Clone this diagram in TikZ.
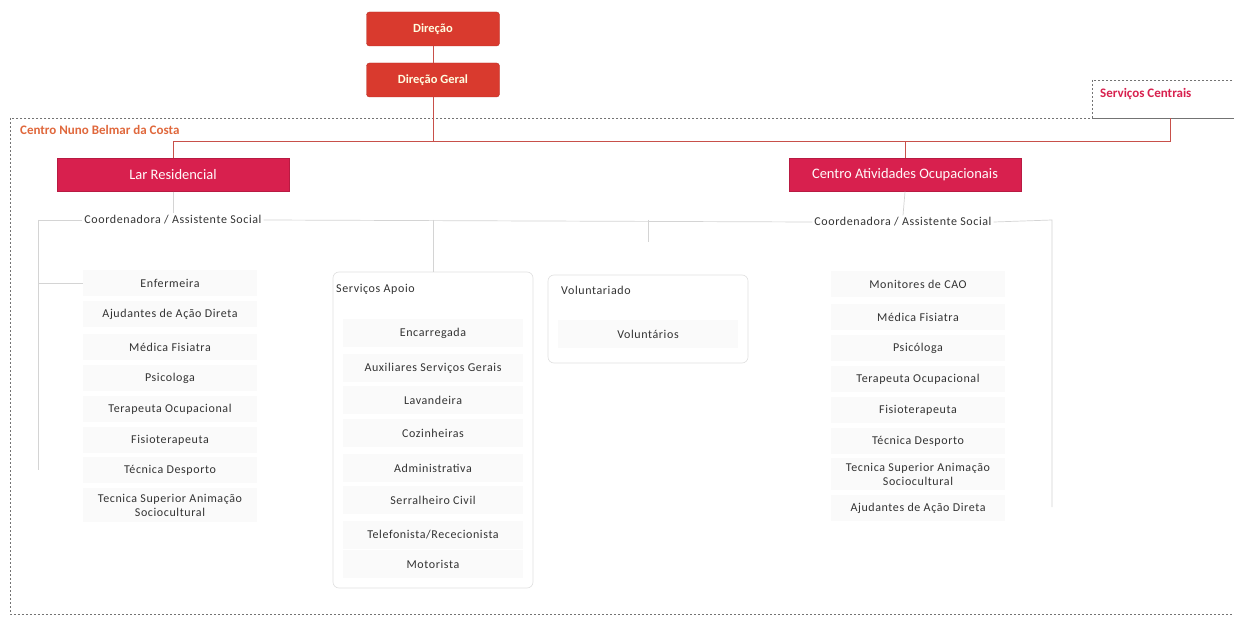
\documentclass[tikz,border=0pt]{standalone}
\usepackage{fontspec}
\setmainfont{Carlito}
\newfontfamily\spacedfont[LetterSpace=5]{Carlito}
\definecolor{dirred}{HTML}{D93A2E}
\definecolor{crim}{HTML}{D8204E}
\definecolor{linered}{HTML}{C8504A}
\definecolor{orangelbl}{HTML}{E0683C}
\definecolor{linegray}{HTML}{D4D4D4}
\definecolor{txt}{HTML}{333333}
\begin{document}
\begin{tikzpicture}[x=1pt,y=-1pt,
  dirbox/.style={rectangle, rounded corners=3pt, fill=dirred, draw=dirred!85!black, line width=0.4pt,
    minimum width=133pt, minimum height=34pt, text=white!88!yellow, font=\bfseries\fontsize{12.5}{14}\selectfont},
  unitbox/.style={rectangle, fill=crim, draw=crim!85!black, line width=0.4pt,
    minimum width=232pt, minimum height=33pt, text=white!92!pink, font=\fontsize{14.5}{16}\selectfont},
  dashbox/.style={draw=black!55, dash pattern=on 2pt off 2pt, line width=0.5pt},
  redline/.style={draw=linered, line width=1pt},
  grayline/.style={draw=linegray, line width=0.7pt},
  coord/.style={text=txt, font=\spacedfont\fontsize{12}{14}\selectfont, fill=white, inner sep=2pt},
  itemL/.style={fill=black!2, minimum width=174pt, minimum height=26pt, inner sep=1pt,
    text=txt, align=center, font=\spacedfont\fontsize{12}{14}\selectfont},
  itemS/.style={fill=black!2, minimum width=180pt, minimum height=28pt, inner sep=1pt,
    text=txt, align=center, font=\spacedfont\fontsize{12}{14}\selectfont},
  groupbox/.style={draw=black!12, rounded corners=6pt, line width=0.6pt},
  grouptitle/.style={anchor=west, text=txt, font=\spacedfont\fontsize{12}{14}\selectfont, inner sep=0pt}
]
\useasboundingbox (0,0) rectangle (1234,617);
\fill[white] (0,0) rectangle (1234,617);

% dashed frames
\draw[dashbox] (10,118) rectangle (1240,614);
\draw[dashbox] (1092,80) rectangle (1240,118);
\node[anchor=west, inner sep=0pt, text=orangelbl, font=\bfseries\fontsize{13}{15}\selectfont] (cnb) at (20,130) {Centro Nuno Belmar da Costa};
\node[anchor=west, inner sep=0pt, text=crim, font=\bfseries\fontsize{13}{15}\selectfont] (sc) at (1100,94) {Serviços Centrais};
\coordinate (scb) at (1170,118);

% top boxes
\node[dirbox] (dir) at (433,29) {Direção};
\node[dirbox] (dirg) at (433,80) {Direção Geral};
\node[unitbox] (lar) at (173,175) {Lar Residencial};
\node[unitbox] (cao) at (905,175) {Centro Atividades Ocupacionais};

% red connectors
\draw[redline] (dir) -- (dirg);
\draw[redline] (dirg.south) -- (433,142) coordinate (bus);
\draw[redline] (lar.north) -- (lar.north |- bus) -| (scb);
\draw[redline] (cao.north) -- (cao.north |- bus);

% coordinators
\node[coord] (coL) at (173,220) {Coordenadora / Assistente Social};
\node[coord] (coR) at (903,222) {Coordenadora / Assistente Social};
\coordinate (lstart) at (38,220);
\coordinate (rend) at (1052,220);
\draw[grayline] (lar.south) -- (coL.north);
\draw[grayline] (cao.south) -- (coR.north);
\draw[grayline] (lstart) -- (coL.west);
\draw[grayline] (coL.east) -- (coR.west);
\draw[grayline] (coR.east) -- (rend) -- (1052,507);
\draw[grayline] (lstart) -- (38,470);

% left list
\node[itemL] (l1) at (170,283) {Enfermeira};
\node[itemL] (l2) at (170,314) {Ajudantes de Ação Direta};
\node[itemL] (l3) at (170,347) {Médica Fisiatra};
\node[itemL] (l4) at (170,378) {Psicologa};
\node[itemL] (l5) at (170,409) {Terapeuta Ocupacional};
\node[itemL] (l6) at (170,440) {Fisioterapeuta};
\node[itemL] (l7) at (170,470) {Técnica Desporto};
\node[itemL, minimum height=34pt] (l8) at (170,505) {Tecnica Superior Animação\\Sociocultural};
\draw[grayline] (38,283) -- (l1.west);

% Serviços Apoio group
\node[groupbox, minimum width=200pt, minimum height=316pt] (sa) at (433,430) {};
\draw[grayline] (433,220) -- (sa.north);
\node[grouptitle] (sat) at (336,289) {Serviços Apoio};
\node[itemS] (s1) at (433,333) {Encarregada};
\node[itemS] (s2) at (433,368) {Auxiliares Serviços Gerais};
\node[itemS] (s3) at (433,400) {Lavandeira};
\node[itemS] (s4) at (433,433) {Cozinheiras};
\node[itemS] (s5) at (433,468) {Administrativa};
\node[itemS] (s6) at (433,500) {Serralheiro Civil};
\node[itemS] (s7) at (433,535) {Telefonista/Rececionista};
\node[itemS] (s8) at (433,564) {Motorista};

% Voluntariado group
\node[groupbox, minimum width=200pt, minimum height=88pt] (vol) at (648,319) {};
\coordinate (voltick) at (648,242);
\draw[grayline] (648,220) -- (voltick);
\node[grouptitle] (volt) at (561,290) {Voluntariado};
\node[itemS] (v1) at (648,334) {Voluntários};

% right list
\node[itemL] (r1) at (918,284) {Monitores de CAO};
\node[itemL] (r2) at (918,317) {Médica Fisiatra};
\node[itemL] (r3) at (918,348) {Psicóloga};
\node[itemL] (r4) at (918,379) {Terapeuta  Ocupacional};
\node[itemL] (r5) at (918,410) {Fisioterapeuta};
\node[itemL] (r6) at (918,441) {Técnica Desporto};
\node[itemL, minimum height=32pt] (r7) at (918,474) {Tecnica Superior Animação\\Sociocultural};
\node[itemL] (r8) at (918,508) {Ajudantes de Ação Direta};
\end{tikzpicture}
\end{document}
